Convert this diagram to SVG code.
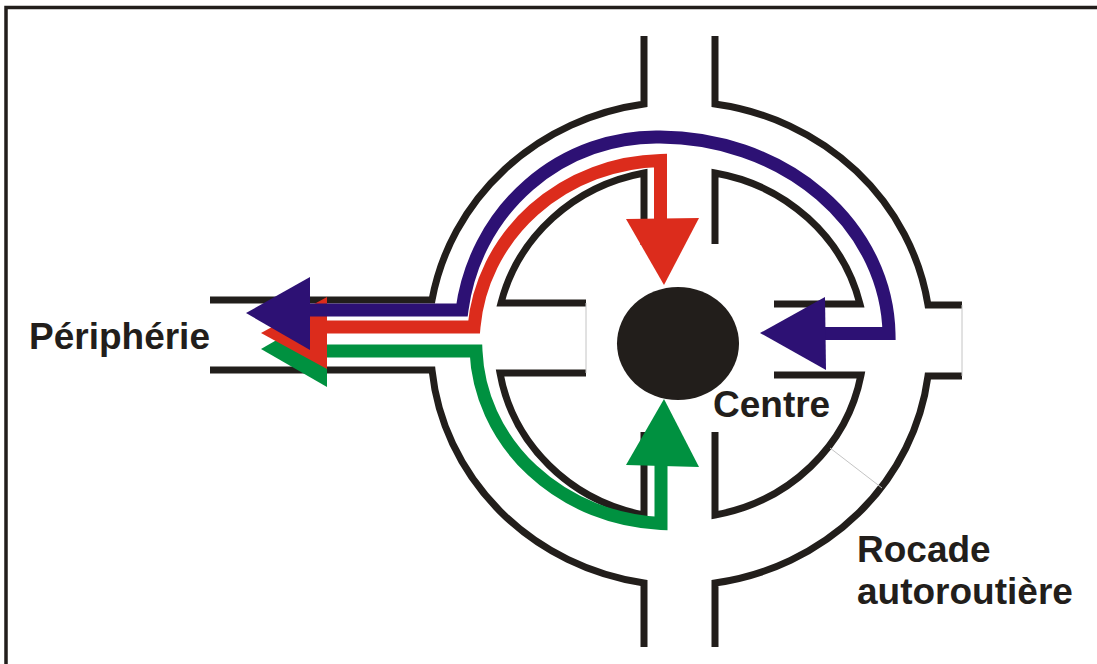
<svg xmlns="http://www.w3.org/2000/svg" width="1097" height="664" viewBox="0 0 1097 664">
<style>
.k{fill:none;stroke:#221e1b;stroke-width:7;stroke-linejoin:miter;stroke-linecap:butt}
.thin{fill:none;stroke:#c4c4c4;stroke-width:1}
.lbl{font-family:"Liberation Sans",Arial,sans-serif;font-weight:bold;font-size:37px;fill:#221e1b}
.band{fill:none;stroke-width:13;stroke-linejoin:miter;stroke-linecap:butt}
.blue{stroke:#2d1174}
.red{stroke:#dc2c1c}
.green{stroke:#009140}
.fblue{fill:#2d1174}
.fred{fill:#dc2c1c}
.fgreen{fill:#009140}
</style>
<rect width="1097" height="664" fill="#ffffff"/>
<rect id="frame" x="6" y="7.5" width="1200" height="700" fill="none" stroke="#221e1b" stroke-width="3.5"/>

<g id="rocade">
  <path class="k" d="M210,300 H432 A252,240 0 0 1 644,104 V36"/>
  <path class="k" d="M715,36 V104 A252,240 0 0 1 928,305 H962"/>
  <path class="k" d="M962,376 H928 A252,240 0 0 1 715,583 V647"/>
  <path class="k" d="M644,647 V583 A252,240 0 0 1 432,370 H210"/>
  <line class="thin" x1="962" y1="305" x2="962" y2="376"/>
</g>

<g id="island">
  <path class="k" d="M644,245 V173 A183,175 0 0 0 501,303 H586"/>
  <path class="k" d="M586,373 H500 A183,175 0 0 0 644,515 V432"/>
  <path class="k" d="M715,244 V173 A183,175 0 0 1 860,304 H774"/>
  <path class="k" d="M774,375 H861 A183,175 0 0 1 715,515 V432"/>
  <line class="thin" x1="586" y1="303" x2="586" y2="373"/>
  <line class="thin" x1="830" y1="448" x2="882" y2="488"/>
</g>

<g id="centre">
  <ellipse cx="678" cy="343.5" rx="61" ry="56.5" fill="#221e1b"/>
</g>

<g id="connectors">
  <g id="green-route">
    <path class="band green" d="M320,351 H476 A195,180 0 0 0 661,523.5 V462"/>
    <polygon class="fgreen" points="327,311 327,387 261,349"/>
    <polygon class="fgreen" points="626,465 699,467 664,399"/>
  </g>
  <g id="red-route">
    <path class="band red" d="M320,327 H474 A192,182 0 0 1 660.5,160.5 V222"/>
    <polygon class="fred" points="327,297 327,369 261,333"/>
    <polygon class="fred" points="626,219 699,218 664,285"/>
  </g>
  <g id="blue-route">
    <path class="band blue" d="M820,333.5 H889 A230,200 0 0 0 660,137 A196,200 0 0 0 462,310 H305"/>
    <polygon class="fblue" points="310,277 310,350 246,313"/>
    <polygon class="fblue" points="825,297 826,370 760,333"/>
  </g>
</g>

<g id="labels">
  <text class="lbl" x="29" y="349">Périphérie</text>
  <text class="lbl" x="713" y="417">Centre</text>
  <text class="lbl" x="857" y="562">Rocade</text>
  <text class="lbl" x="857" y="604">autoroutière</text>
</g>
</svg>
